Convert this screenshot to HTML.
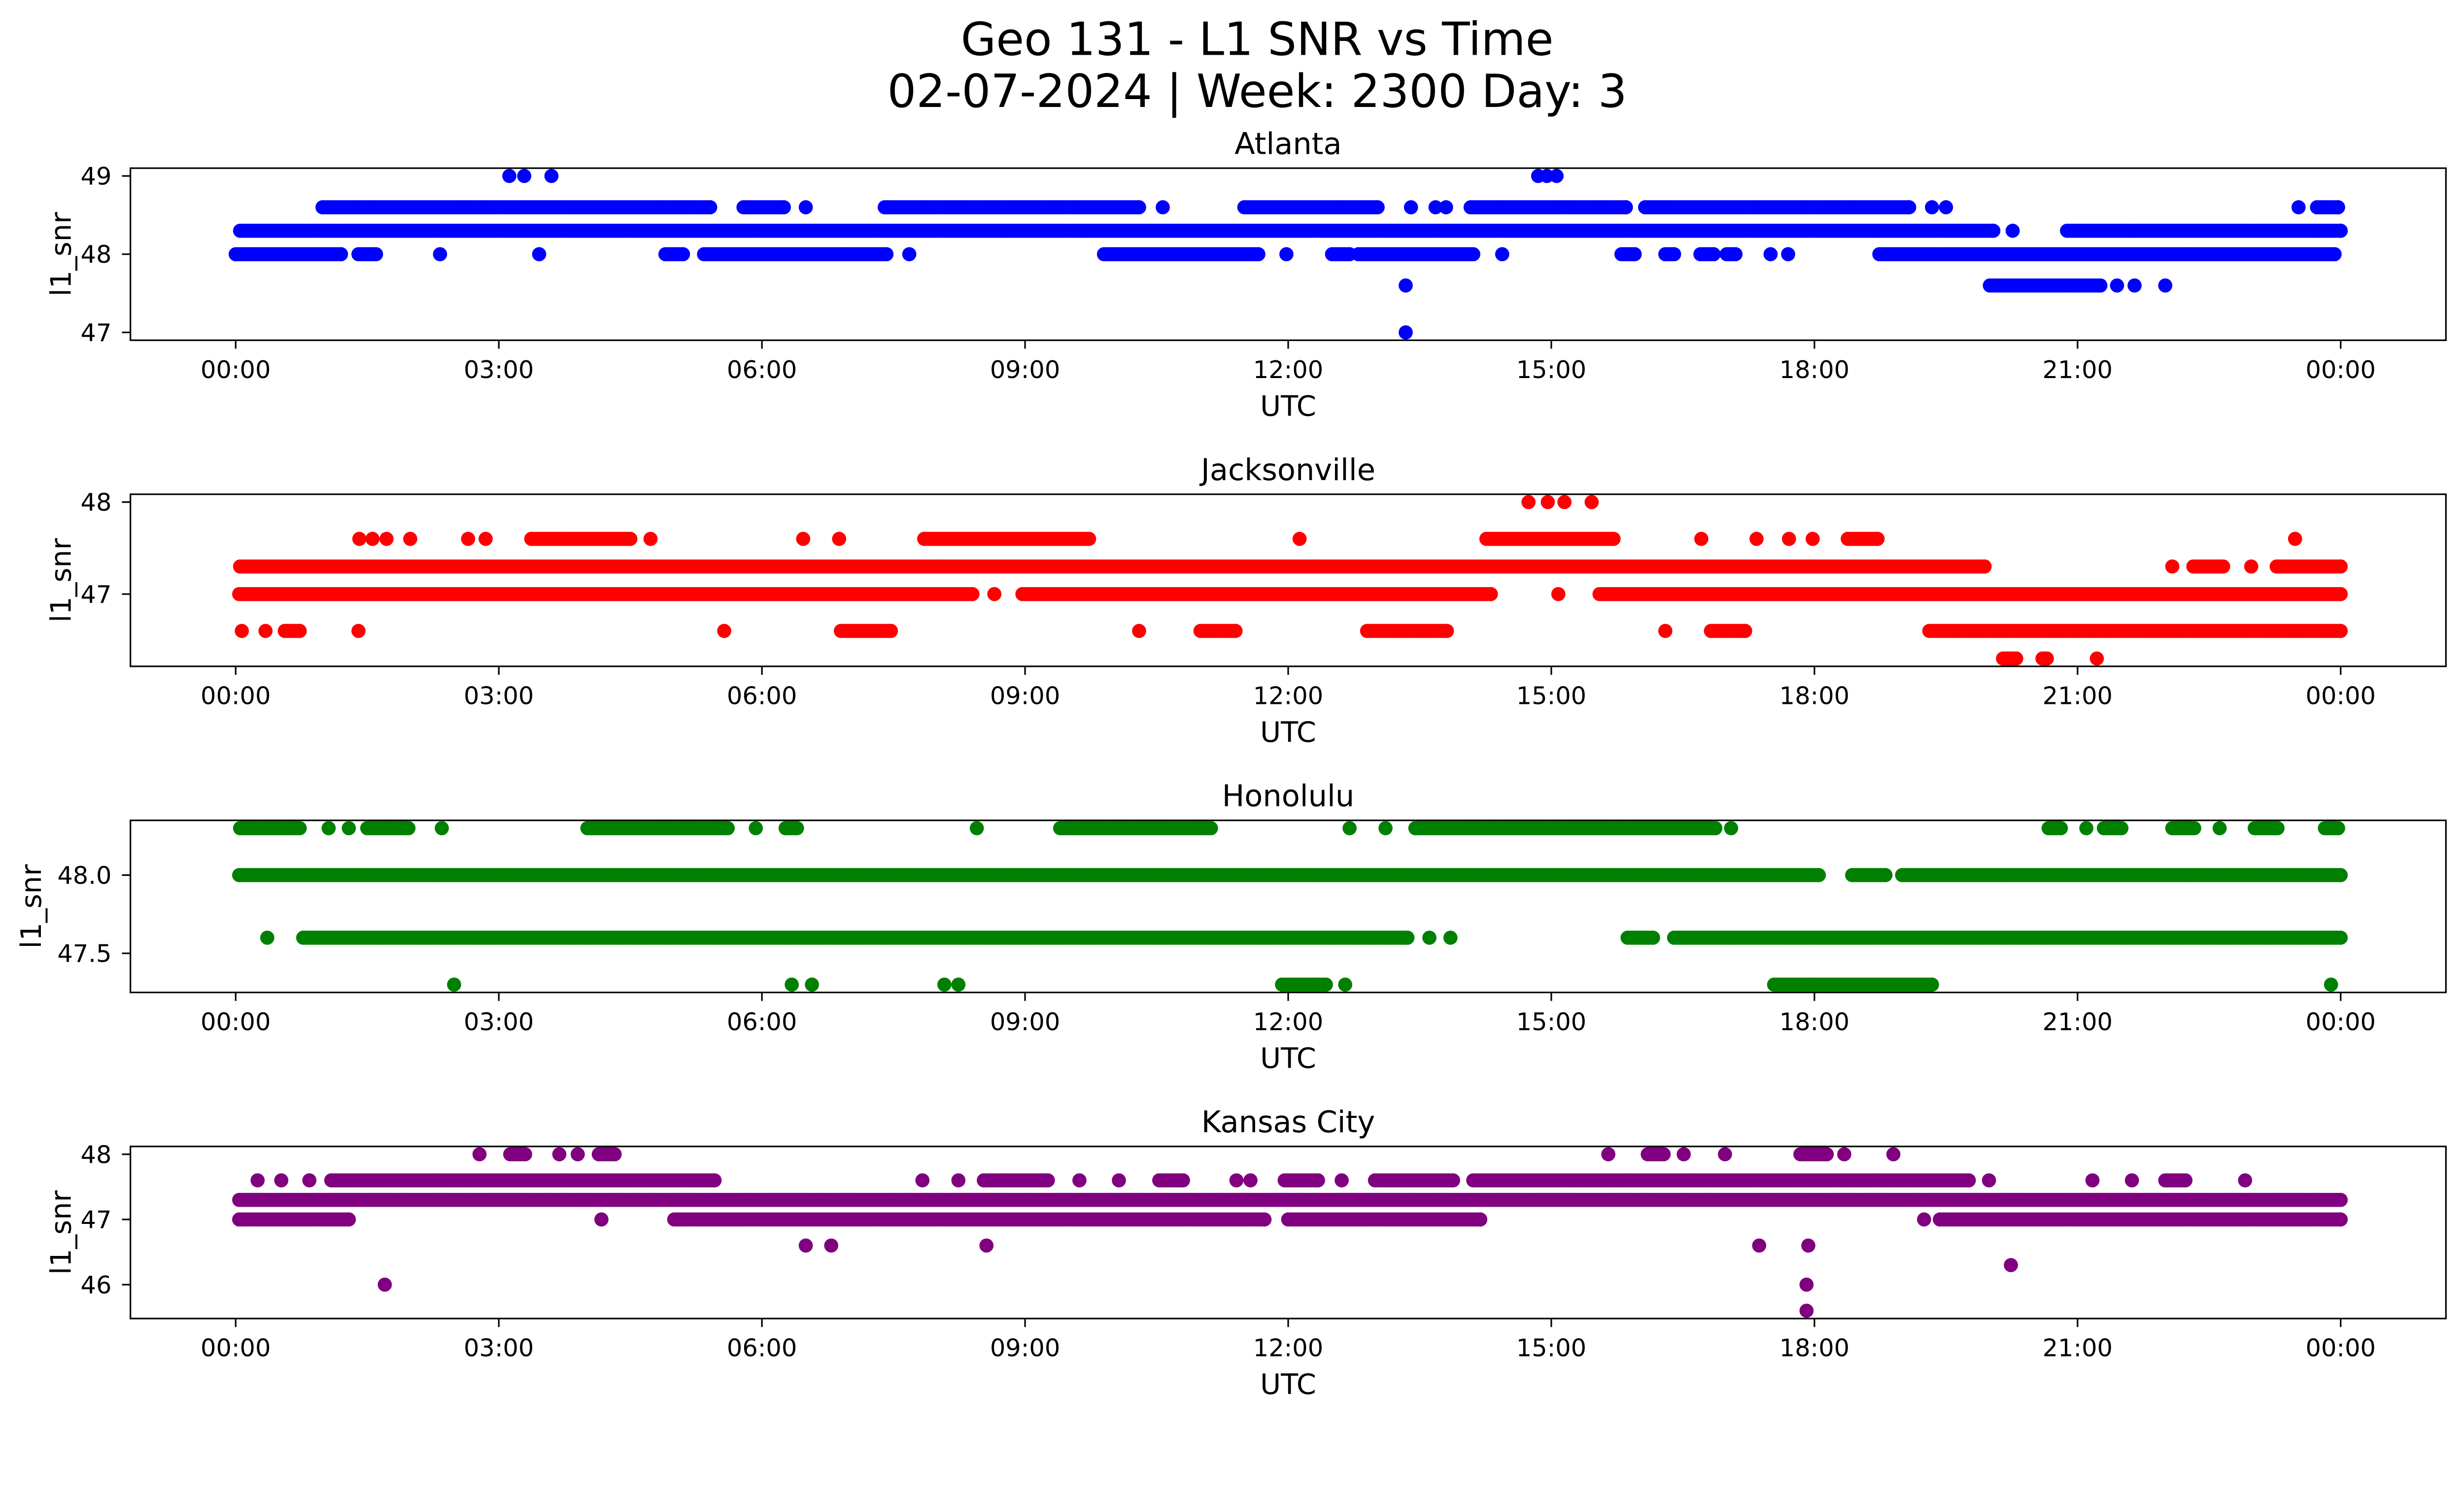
<!DOCTYPE html>
<html><head><meta charset="utf-8">
<style>
html,body{margin:0;padding:0;background:#fff;overflow:hidden;}
svg{display:block;position:absolute;left:0;top:0;width:100vw;height:calc(100vw * 0.5745406);font-family:"DejaVu Sans","Liberation Sans",sans-serif;}
</style></head><body>
<svg id="fig" viewBox="0 0 1568 901" preserveAspectRatio="none" xmlns="http://www.w3.org/2000/svg">
<rect width="1568" height="901" fill="#fff"/>
<text x="800" y="35" font-size="29" text-anchor="middle">Geo 131 - L1 SNR vs Time</text>
<text x="800" y="68" font-size="29" text-anchor="middle">02-07-2024 | Week: 2300 Day: 3</text>
</svg>
<script>
const xTickLabels = ["00:00","03:00","06:00","09:00","12:00","15:00","18:00","21:00","00:00"];
const xTickHours = [0,3,6,9,12,15,18,21,24];
const stationNames = ["Atlanta","Jacksonville","Honolulu","Kansas City"];
const stationColors = ["#0000ff","#ff0000","#008000","#800080"];
const yLimits = [[46.9,49.1],[46.215,48.085],[47.25,48.35],[45.48,48.12]];
const yTicks = [[47,48,49],[47,48],[47.5,48.0],[46,47,48]];
const yTickLabels = [["47","48","49"],["47","48"],["47.5","48.0"],["46","47","48"]];
const atlantaRows = [
 [49.0,[[3.12,3.12],[3.29,3.29],[3.6,3.6],[14.85,14.85],[14.95,14.95],[15.06,15.06]]],
 [48.6,[[0.99,5.41],[5.79,6.25],[6.5,6.5],[7.4,10.3],[10.57,10.57],[11.5,13.02],[13.4,13.4],[13.68,13.68],[13.8,13.8],[14.08,15.85],[16.07,19.08],[19.34,19.34],[19.5,19.5],[23.52,23.52],[23.73,23.97]]],
 [48.3,[[0.05,20.04],[20.26,20.26],[20.88,24.0]]],
 [48.0,[[0.0,1.2],[1.4,1.6],[2.33,2.33],[3.46,3.46],[4.9,5.1],[5.34,7.42],[7.68,7.68],[9.9,11.66],[11.98,11.98],[12.5,12.7],[12.8,14.11],[14.44,14.44],[15.8,15.95],[16.3,16.4],[16.7,16.85],[17.0,17.1],[17.5,17.5],[17.7,17.7],[18.74,23.93]]],
 [47.6,[[13.34,13.34],[20.0,21.26],[21.45,21.45],[21.65,21.65],[22.0,22.0]]],
 [47.0,[[13.34,13.34]]]
];
const jacksonvilleRows = [
 [48.0,[[14.74,14.74],[14.96,14.96],[15.15,15.15],[15.46,15.46]]],
 [47.6,[[1.41,1.41],[1.56,1.56],[1.72,1.72],[1.99,1.99],[2.65,2.65],[2.85,2.85],[3.37,4.5],[4.73,4.73],[6.47,6.47],[6.88,6.88],[7.85,9.73],[12.13,12.13],[14.26,15.71],[16.71,16.71],[17.34,17.34],[17.71,17.71],[17.98,17.98],[18.38,18.72],[23.48,23.48]]],
 [47.3,[[0.05,19.94],[22.08,22.08],[22.32,22.66],[22.98,22.98],[23.27,24.0]]],
 [47.0,[[0.04,8.4],[8.65,8.65],[8.97,14.31],[15.08,15.08],[15.55,24.0]]],
 [46.6,[[0.07,0.07],[0.34,0.34],[0.56,0.73],[1.4,1.4],[5.57,5.57],[6.9,7.47],[10.3,10.3],[11.0,11.4],[12.9,13.81],[16.3,16.3],[16.82,17.21],[19.31,24.0]]],
 [46.3,[[20.15,20.3],[20.6,20.65],[21.22,21.22]]]
];
const honoluluRows = [
 [48.3,[[0.05,0.73],[1.06,1.06],[1.29,1.29],[1.5,1.97],[2.35,2.35],[4.01,5.61],[5.93,5.93],[6.27,6.4],[8.45,8.45],[9.4,11.12],[12.7,12.7],[13.11,13.11],[13.45,16.87],[17.05,17.05],[20.67,20.81],[21.1,21.1],[21.3,21.5],[22.08,22.33],[22.62,22.62],[23.02,23.28],[23.82,23.97]]],
 [48.0,[[0.04,18.05],[18.43,18.81],[19.0,24.0]]],
 [47.6,[[0.36,0.36],[0.77,13.36],[13.61,13.61],[13.85,13.85],[15.87,16.16],[16.4,24.0]]],
 [47.3,[[2.49,2.49],[6.34,6.34],[6.57,6.57],[8.08,8.08],[8.24,8.24],[11.93,12.43],[12.65,12.65],[17.54,19.34],[23.89,23.89]]]
];
const kansasRows = [
 [48.0,[[2.78,2.78],[3.13,3.3],[3.69,3.69],[3.9,3.9],[4.14,4.32],[15.65,15.65],[16.1,16.28],[16.51,16.51],[16.98,16.98],[17.84,18.14],[18.34,18.34],[18.9,18.9]]],
 [47.6,[[0.25,0.25],[0.52,0.52],[0.84,0.84],[1.09,5.46],[7.83,7.83],[8.24,8.24],[8.53,9.26],[9.62,9.62],[10.07,10.07],[10.53,10.8],[11.41,11.41],[11.57,11.57],[11.96,12.34],[12.61,12.61],[12.99,13.88],[14.11,19.76],[19.99,19.99],[21.17,21.17],[21.62,21.62],[22.0,22.23],[22.91,22.91]]],
 [47.3,[[0.04,24.0]]],
 [47.0,[[0.04,1.29],[4.17,4.17],[5.0,11.73],[12.0,14.19],[19.25,19.25],[19.43,24.0]]],
 [46.6,[[6.5,6.5],[6.79,6.79],[8.56,8.56],[17.37,17.37],[17.93,17.93]]],
 [46.3,[[20.24,20.24]]],
 [46.0,[[1.7,1.7],[17.91,17.91]]],
 [45.6,[[17.91,17.91]]]
];
const stationRows = [atlantaRows, jacksonvilleRows, honoluluRows, kansasRows];

const NS="http://www.w3.org/2000/svg";
const svg=document.getElementById('fig');
const axL=83, axR=1556.5, axH=109.5;
const axTops=[107,314.5,522,729.5];
const xMin=-1.2, xMax=25.2;
function xScale(h){return axL+(h-xMin)/(xMax-xMin)*(axR-axL);}
function mk(tag,attrs,parent){const e=document.createElementNS(NS,tag);for(const k in attrs)e.setAttribute(k,attrs[k]);(parent||svg).appendChild(e);return e;}

for(let p=0;p<4;p++){
  const top=axTops[p], bot=top+axH;
  const [y0,y1]=yLimits[p];
  const yScale=v=>bot-(v-y0)/(y1-y0)*axH;
  const g=mk('g',{});
  
  
  const t=mk('text',{x:(axL+axR)/2,y:top-9,'font-size':19,'text-anchor':'middle'},g);
  t.textContent=stationNames[p];
  
  
  const pts=mk('g',{fill:stationColors[p]},g);
  
  
  for(const row of stationRows[p]){
    const v=row[0];
    for(const seg of row[1]){
      const a=seg[0], b=seg[1];
      for(let h=a; h<=b+1e-9; h+=0.03){
        const c=mk('circle',{cx:xScale(h).toFixed(2),cy:yScale(v).toFixed(2),r:4.5},pts);
        
        
      }
      if(b>a){const c=mk('circle',{cx:xScale(b).toFixed(2),cy:yScale(v).toFixed(2),r:4.5},pts);
        
        }
    }
  }
  const frame=mk('rect',{x:axL,y:top,width:axR-axL,height:axH,fill:'none',stroke:'#000','stroke-width':1},g);
  
  
  for(let i=0;i<xTickHours.length;i++){
    const x=xScale(xTickHours[i]);
    mk('line',{x1:x,x2:x,y1:bot,y2:bot+5.4,stroke:'#000','stroke-width':1},g);
    const tl=mk('text',{x:x,y:bot+24,'font-size':15.5,'text-anchor':'middle'},g);
    tl.textContent=xTickLabels[i];
    
    
  }
  const xl=mk('text',{x:(axL+axR)/2,y:bot+48,'font-size':18,'text-anchor':'middle'},g);
  xl.textContent='UTC';
  
  
  let maxw=0;
  for(let i=0;i<yTicks[p].length;i++){
    const y=yScale(yTicks[p][i]);
    mk('line',{x1:axL-5.4,x2:axL,y1:y,y2:y,stroke:'#000','stroke-width':1},g);
    const yl=mk('text',{x:axL-12,y:y+5.5,'font-size':15.5,'text-anchor':'end'},g);
    yl.textContent=yTickLabels[p][i];
    
    
    maxw=Math.max(maxw,yTickLabels[p][i].length);
  }
  const ax= maxw>2 ? 26 : 45;
  const yt=mk('text',{x:ax,y:(top+bot)/2,'font-size':18,'text-anchor':'middle',transform:`rotate(-90 ${ax} ${(top+bot)/2})`},g);
  yt.textContent='l1_snr';
  
  
}
</script>
</body></html>
